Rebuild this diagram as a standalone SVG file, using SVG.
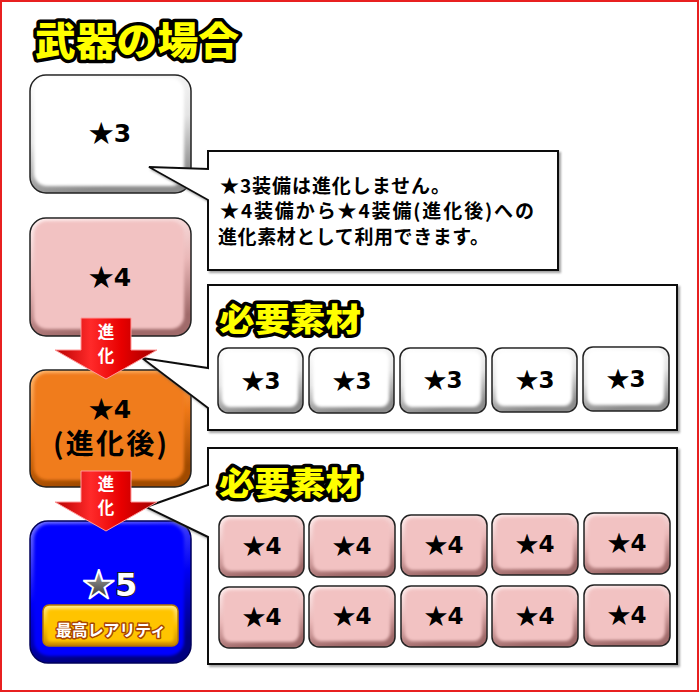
<svg xmlns="http://www.w3.org/2000/svg" width="700" height="693" viewBox="0 0 700 693">
<defs>
<linearGradient id="gW" x1="0" y1="0" x2="0.25" y2="1"><stop offset="0" stop-color="#ffffff"/><stop offset="0.55" stop-color="#e4e4e4"/><stop offset="1" stop-color="#8c8c8c"/></linearGradient>
<linearGradient id="gP" x1="0" y1="0" x2="0.25" y2="1"><stop offset="0" stop-color="#fff0f0"/><stop offset="0.55" stop-color="#eab8b8"/><stop offset="1" stop-color="#a06a6a"/></linearGradient>
<linearGradient id="gO" x1="0" y1="0" x2="0.25" y2="1"><stop offset="0" stop-color="#ffb872"/><stop offset="0.55" stop-color="#ee7818"/><stop offset="1" stop-color="#a04a00"/></linearGradient>
<linearGradient id="gB" x1="0" y1="0" x2="0.25" y2="1"><stop offset="0" stop-color="#7070ff"/><stop offset="0.55" stop-color="#0000f4"/><stop offset="1" stop-color="#000080"/></linearGradient>
<linearGradient id="gG" x1="0" y1="0" x2="0" y2="1"><stop offset="0" stop-color="#ffe98a"/><stop offset="0.5" stop-color="#fcc200"/><stop offset="1" stop-color="#c88600"/></linearGradient>
<linearGradient id="gR" x1="0" y1="0" x2="1" y2="0"><stop offset="0" stop-color="#b80000"/><stop offset="0.35" stop-color="#ff2a2a"/><stop offset="0.65" stop-color="#e80000"/><stop offset="1" stop-color="#a00000"/></linearGradient>
<linearGradient id="gS" x1="0" y1="0" x2="0" y2="1"><stop offset="0" stop-color="#d8d8d8"/><stop offset="1" stop-color="#1a1a1a"/></linearGradient>
<filter id="soft" x="-5%" y="-5%" width="110%" height="110%"><feGaussianBlur stdDeviation="1.4"/></filter>
<filter id="shd" x="-5%" y="-5%" width="115%" height="115%"><feDropShadow dx="2" dy="2" stdDeviation="1" flood-color="#666" flood-opacity="0.6"/></filter>
</defs>
<style>
.ob{stroke:#222;stroke-width:1.5}
.lbl{font-family:"DejaVu Sans","Noto Sans CJK JP",sans-serif;font-weight:bold;text-anchor:middle;fill:#000}
.st{font-family:"Noto Sans CJK JP",sans-serif}
.jp{font-family:"Noto Sans CJK JP",sans-serif;font-weight:bold}
.ttl{fill:#ffff00;stroke:#000;stroke-width:7;stroke-linejoin:round;paint-order:stroke;font-family:"Noto Sans CJK JP",sans-serif;font-weight:900}
.co{fill:#fff;stroke:#111;stroke-width:2}
.arw{fill:url(#gR);stroke:#ff9a9a;stroke-width:1}
.at{font-family:"Noto Sans CJK JP",sans-serif;font-weight:bold;font-size:16.5px;fill:#fff;text-anchor:middle}
</style>
<rect x="1" y="1" width="697" height="690" fill="#fff" stroke="#e82020" stroke-width="2"/>

<g id="title"><text class="ttl" x="35" y="55" font-size="39" textLength="204" lengthAdjust="spacingAndGlyphs">武器の場合</text></g>

<g id="n-star3">
<rect class="ob" x="30" y="75" width="161" height="118" rx="16" fill="url(#gW)"/>
<rect x="34" y="78" width="150" height="108" rx="13" fill="#fff" filter="url(#soft)"/>
<text class="lbl" x="110" y="142" font-size="25"><tspan class="st">★</tspan>3</text>
</g>

<g id="n-star4">
<rect class="ob" x="30" y="218" width="161" height="118" rx="16" fill="url(#gP)"/>
<rect x="34" y="221" width="150" height="108" rx="13" fill="#f2c2c2" filter="url(#soft)"/>
<text class="lbl" x="110" y="286" font-size="25"><tspan class="st">★</tspan>4</text>
</g>

<g id="n-star4e">
<rect class="ob" x="30" y="370" width="161" height="117" rx="16" fill="url(#gO)"/>
<rect x="34" y="373" width="150" height="107" rx="13" fill="#f07c1a" filter="url(#soft)"/>
<text class="lbl" x="110" y="418" font-size="25"><tspan class="st">★</tspan>4</text>
<text class="lbl jp" x="110" y="454" font-size="28" textLength="114" lengthAdjust="spacing">(進化後)</text>
</g>

<g id="n-star5">
<rect x="30" y="521" width="161" height="142" rx="18" fill="url(#gB)" stroke="#00005a" stroke-width="1.5"/>
<rect x="34" y="524" width="150" height="132" rx="15" fill="#0000ff" filter="url(#soft)"/>
<text x="110" y="596" font-size="32" text-anchor="middle" font-family="DejaVu Sans,sans-serif" font-weight="bold"><tspan class="st" fill="url(#gS)" stroke="#fff" stroke-width="1.8">★</tspan><tspan fill="#fff" stroke="#222" stroke-width="1.8" paint-order="stroke">5</tspan></text>
<rect x="43" y="605" width="135" height="41" rx="6" fill="url(#gG)" stroke="#b87800" stroke-width="1.5"/>
<rect x="47" y="609" width="127" height="33" rx="4" fill="#ffc400" filter="url(#soft)"/>
<text class="jp" x="111" y="636" font-size="16" text-anchor="middle" fill="#fff" stroke="#a84400" stroke-width="3" stroke-linejoin="round" paint-order="stroke" textLength="110" lengthAdjust="spacingAndGlyphs">最高レアリティ</text>
</g>

<g id="callout1">
<path class="co" filter="url(#shd)" d="M208,151 H558 V270 H208 V200 L149,167 L208,169 Z"/>
<text class="jp" font-size="19" fill="#000">
<tspan x="220" y="193" textLength="230" lengthAdjust="spacing">★3装備は進化しません。</tspan>
<tspan x="220" y="218" textLength="314" lengthAdjust="spacing">★4装備から★4装備(進化後)への</tspan>
<tspan x="218" y="244" textLength="271" lengthAdjust="spacing">進化素材として利用できます。</tspan>
</text>
</g>

<g id="callout2">
<path class="co" filter="url(#shd)" d="M208,285 H677 V430 H208 V408 L142,358 L208,368 Z"/>
<text class="ttl" x="219" y="331" font-size="32" stroke-width="5" textLength="142" lengthAdjust="spacingAndGlyphs">必要素材</text>
</g>

<g id="callout3">
<path class="co" filter="url(#shd)" d="M208,448 H677 V664 H208 V537 L146,507 L208,485 Z"/>
<text class="ttl" x="219" y="495" font-size="32" stroke-width="5" textLength="142" lengthAdjust="spacingAndGlyphs">必要素材</text>
</g>

<g id="m3-1"><rect class="ob" x="218" y="348" width="85" height="65" rx="10" fill="url(#gW)"/><rect x="222" y="351" width="76" height="56" rx="8" fill="#fff" filter="url(#soft)"/><text class="lbl" x="261" y="389" font-size="23"><tspan class="st">★</tspan>3</text></g>
<g id="m3-2"><rect class="ob" x="309" y="348" width="85" height="65" rx="10" fill="url(#gW)"/><rect x="313" y="351" width="76" height="56" rx="8" fill="#fff" filter="url(#soft)"/><text class="lbl" x="352" y="389" font-size="23"><tspan class="st">★</tspan>3</text></g>
<g id="m3-3"><rect class="ob" x="400" y="348" width="86" height="65" rx="10" fill="url(#gW)"/><rect x="404" y="351" width="77" height="56" rx="8" fill="#fff" filter="url(#soft)"/><text class="lbl" x="443" y="388" font-size="23"><tspan class="st">★</tspan>3</text></g>
<g id="m3-4"><rect class="ob" x="492" y="348" width="85" height="64" rx="10" fill="url(#gW)"/><rect x="496" y="351" width="76" height="55" rx="8" fill="#fff" filter="url(#soft)"/><text class="lbl" x="535" y="388" font-size="23"><tspan class="st">★</tspan>3</text></g>
<g id="m3-5"><rect class="ob" x="583" y="347" width="86" height="64" rx="10" fill="url(#gW)"/><rect x="587" y="350" width="77" height="55" rx="8" fill="#fff" filter="url(#soft)"/><text class="lbl" x="626" y="387" font-size="23"><tspan class="st">★</tspan>3</text></g>

<g id="m4-1"><rect class="ob" x="219" y="516" width="85" height="61" rx="10" fill="url(#gP)"/><rect x="223" y="519" width="76" height="52" rx="8" fill="#f2c2c2" filter="url(#soft)"/><text class="lbl" x="262" y="554" font-size="23"><tspan class="st">★</tspan>4</text></g>
<g id="m4-2"><rect class="ob" x="309" y="516" width="86" height="61" rx="10" fill="url(#gP)"/><rect x="313" y="519" width="77" height="52" rx="8" fill="#f2c2c2" filter="url(#soft)"/><text class="lbl" x="352" y="554" font-size="23"><tspan class="st">★</tspan>4</text></g>
<g id="m4-3"><rect class="ob" x="401" y="515" width="86" height="61" rx="10" fill="url(#gP)"/><rect x="405" y="518" width="77" height="52" rx="8" fill="#f2c2c2" filter="url(#soft)"/><text class="lbl" x="444" y="553" font-size="23"><tspan class="st">★</tspan>4</text></g>
<g id="m4-4"><rect class="ob" x="492" y="514" width="86" height="61" rx="10" fill="url(#gP)"/><rect x="496" y="517" width="77" height="52" rx="8" fill="#f2c2c2" filter="url(#soft)"/><text class="lbl" x="535" y="552" font-size="23"><tspan class="st">★</tspan>4</text></g>
<g id="m4-5"><rect class="ob" x="584" y="513" width="86" height="61" rx="10" fill="url(#gP)"/><rect x="588" y="516" width="77" height="52" rx="8" fill="#f2c2c2" filter="url(#soft)"/><text class="lbl" x="627" y="551" font-size="23"><tspan class="st">★</tspan>4</text></g>
<g id="m4-6"><rect class="ob" x="219" y="587" width="85" height="61" rx="10" fill="url(#gP)"/><rect x="223" y="590" width="76" height="52" rx="8" fill="#f2c2c2" filter="url(#soft)"/><text class="lbl" x="262" y="625" font-size="23"><tspan class="st">★</tspan>4</text></g>
<g id="m4-7"><rect class="ob" x="309" y="586" width="86" height="61" rx="10" fill="url(#gP)"/><rect x="313" y="589" width="77" height="52" rx="8" fill="#f2c2c2" filter="url(#soft)"/><text class="lbl" x="352" y="624" font-size="23"><tspan class="st">★</tspan>4</text></g>
<g id="m4-8"><rect class="ob" x="401" y="586" width="86" height="61" rx="10" fill="url(#gP)"/><rect x="405" y="589" width="77" height="52" rx="8" fill="#f2c2c2" filter="url(#soft)"/><text class="lbl" x="444" y="624" font-size="23"><tspan class="st">★</tspan>4</text></g>
<g id="m4-9"><rect class="ob" x="492" y="586" width="86" height="61" rx="10" fill="url(#gP)"/><rect x="496" y="589" width="77" height="52" rx="8" fill="#f2c2c2" filter="url(#soft)"/><text class="lbl" x="535" y="624" font-size="23"><tspan class="st">★</tspan>4</text></g>
<g id="m4-10"><rect class="ob" x="584" y="585" width="86" height="61" rx="10" fill="url(#gP)"/><rect x="588" y="588" width="77" height="52" rx="8" fill="#f2c2c2" filter="url(#soft)"/><text class="lbl" x="627" y="623" font-size="23"><tspan class="st">★</tspan>4</text></g>

<g id="connectors">
<polygon class="arw" points="81,318 131,318 131,350 157,350 106,379 55,350 81,350"/>
<text class="at" x="106" y="338">進</text>
<text class="at" x="106" y="362">化</text>
<polygon class="arw" points="81,471 131,471 131,502 157,502 106,531 55,502 81,502"/>
<text class="at" x="106" y="490">進</text>
<text class="at" x="106" y="514">化</text>
</g>
</svg>
